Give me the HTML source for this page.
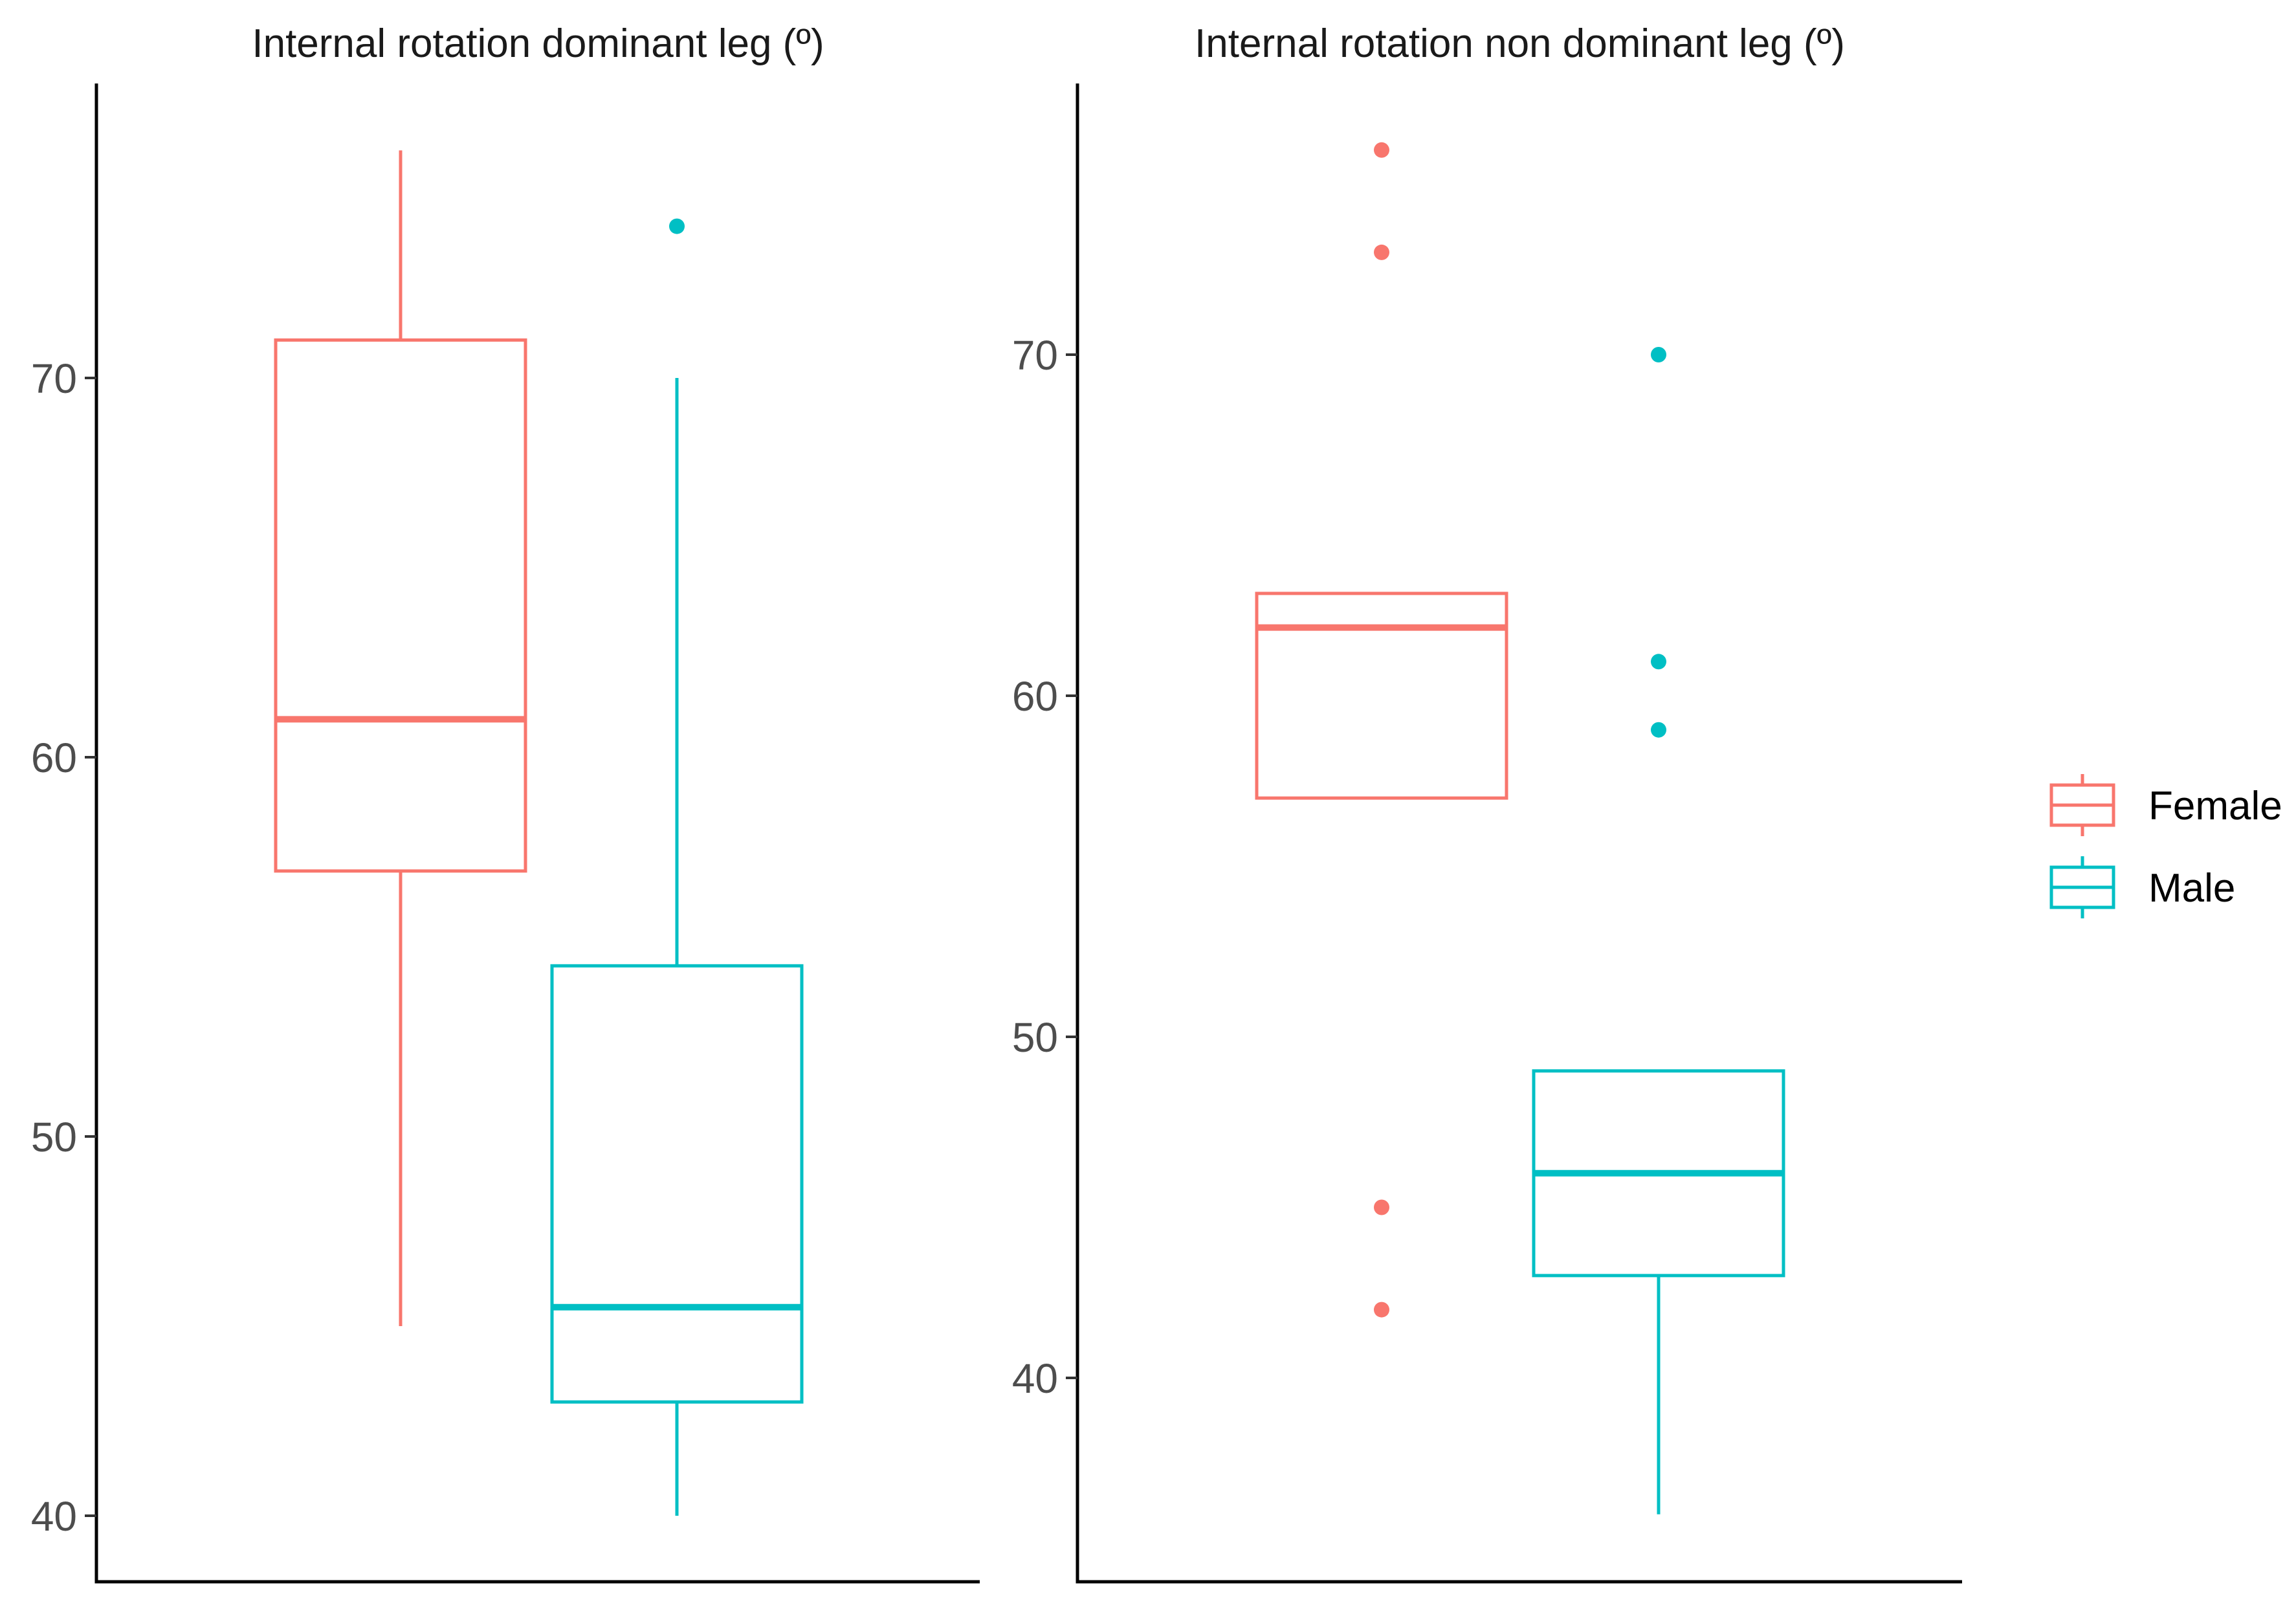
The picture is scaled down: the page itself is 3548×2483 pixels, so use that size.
<!DOCTYPE html>
<html><head><meta charset="utf-8"><style>
html,body{margin:0;padding:0;background:#fff}
svg{display:block;font-family:"Liberation Sans",Arial,sans-serif}
</style></head><body>
<svg id="chart" width="3548" height="2483" viewBox="0 0 3548 2483" xmlns="http://www.w3.org/2000/svg"></svg>
<script>
const groups = ["Female", "Male"];
const colors = ["#F8766D", "#00BFC4"];
// panel 1: dominant leg  [lower, q1, median, q3, upper]
const domStats = [[45, 57, 61, 71, 76], [40, 43, 45.5, 54.5, 70]];
const domOutliers = [[], [74]];
const domTicks = [40, 50, 60, 70];
// panel 2: non dominant leg
const nonStats = [[57, 57, 62, 63, 63], [36, 43, 46, 49, 49]];
const nonOutliers = [[76, 73, 45, 42], [70, 61, 59]];
const nonTicks = [40, 50, 60, 70];
const titles = ["Internal rotation dominant leg (º)", "Internal rotation non dominant leg (º)"];

const NS = "http://www.w3.org/2000/svg";
const svg = document.getElementById("chart");
function mk(tag, attrs, parent) {
  const e = document.createElementNS(NS, tag);
  for (const k in attrs) e.setAttribute(k, attrs[k]);
  (parent || svg).appendChild(e);
  return e;
}

const panels = [
  {stats: domStats, outl: domOutliers, ticks: domTicks, title: titles[0], axisX: 149, right: 1514, top: 129, bottom: 2444, y40: 2342, per10: 586, centers: [619, 1046], halfW: 193, name: "dominant-leg-panel"},
  {stats: nonStats, outl: nonOutliers, ticks: nonTicks, title: titles[1], axisX: 1665, right: 3032, top: 129, bottom: 2444, y40: 2129, per10: 527, centers: [2135, 2563], halfW: 193, name: "non-dominant-leg-panel"}
];

panels.forEach((p, pi) => {
  const g = mk("g", {});
  
  
  const y = v => p.y40 - (v - 40) * p.per10 / 10;
  const t = mk("text", {x: (p.axisX + p.right) / 2, y: 88, "text-anchor": "middle", "font-size": 62, fill: "#1a1a1a"}, g);
  t.textContent = p.title;
  
  
  const ya = mk("line", {x1: p.axisX, y1: p.top, x2: p.axisX, y2: p.bottom + 2.5, stroke: "#000", "stroke-width": 5}, g);
  
  
  const xa = mk("line", {x1: p.axisX - 2.5, y1: p.bottom, x2: p.right, y2: p.bottom, stroke: "#000", "stroke-width": 5}, g);
  
  
  p.ticks.forEach(tv => {
    const tk = mk("line", {x1: p.axisX - 18, y1: y(tv), x2: p.axisX, y2: y(tv), stroke: "#333", "stroke-width": 4}, g);
    
    
    const tl = mk("text", {x: p.axisX - 30, y: y(tv) + 23, "text-anchor": "end", "font-size": 64, fill: "#4D4D4D"}, g);
    tl.textContent = tv;
    
    
  });
  p.stats.forEach((s, gi) => {
    const c = p.centers[gi], col = colors[gi];
    const bg = mk("g", {}, g);
    
    
    if (s[4] > s[3]) mk("line", {x1: c, y1: y(s[3]), x2: c, y2: y(s[4]), stroke: col, "stroke-width": 5}, bg);
    if (s[0] < s[1]) mk("line", {x1: c, y1: y(s[1]), x2: c, y2: y(s[0]), stroke: col, "stroke-width": 5}, bg);
    mk("rect", {x: c - p.halfW, y: y(s[3]), width: 2 * p.halfW, height: y(s[1]) - y(s[3]), fill: "#fff", stroke: col, "stroke-width": 5}, bg);
    mk("line", {x1: c - p.halfW, y1: y(s[2]), x2: c + p.halfW, y2: y(s[2]), stroke: col, "stroke-width": 10}, bg);
    p.outl[gi].forEach(o => {
      const pt = mk("circle", {cx: c, cy: y(o), r: 12, fill: col}, g);
      
      
    });
  });
});

// legend
const lg = mk("g", {});


const keyY = [1244, 1371];
groups.forEach((gname, i) => {
  const e = mk("g", {}, lg);
  
  
  const cy = keyY[i], col = colors[i];
  mk("line", {x1: 3218, y1: cy - 48, x2: 3218, y2: cy + 48, stroke: col, "stroke-width": 5}, e);
  mk("rect", {x: 3170, y: cy - 31, width: 96, height: 62, fill: "#fff", stroke: col, "stroke-width": 5}, e);
  mk("line", {x1: 3170, y1: cy, x2: 3266, y2: cy, stroke: col, "stroke-width": 5}, e);
  const tx = mk("text", {x: 3320, y: cy + 22, "font-size": 62, fill: "#000"}, e);
  tx.textContent = gname;
});
</script>
</body></html>
